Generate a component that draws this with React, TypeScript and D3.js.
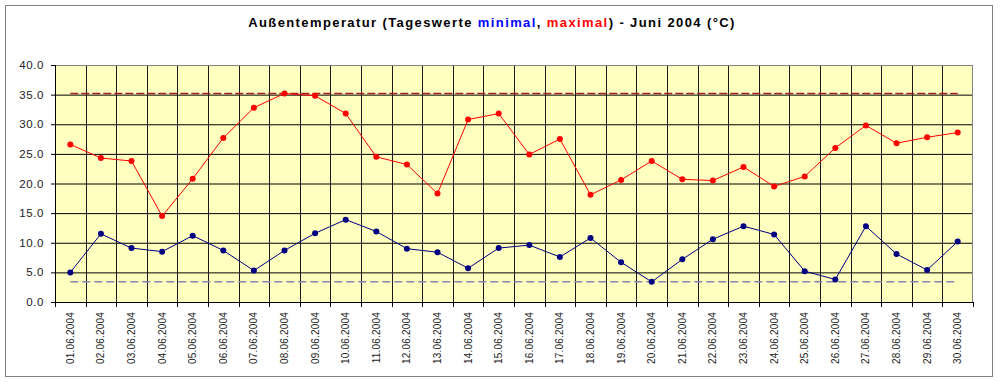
import React from "react";
import * as d3 from "d3";

const dates = [
  "01.06.2004","02.06.2004","03.06.2004","04.06.2004","05.06.2004","06.06.2004",
  "07.06.2004","08.06.2004","09.06.2004","10.06.2004","11.06.2004","12.06.2004",
  "13.06.2004","14.06.2004","15.06.2004","16.06.2004","17.06.2004","18.06.2004",
  "19.06.2004","20.06.2004","21.06.2004","22.06.2004","23.06.2004","24.06.2004",
  "25.06.2004","26.06.2004","27.06.2004","28.06.2004","29.06.2004","30.06.2004",
];
const maxValues = [
  26.6, 24.3, 23.8, 14.5, 20.8, 27.7, 32.8, 35.2, 34.8, 31.8,
  24.5, 23.2, 18.3, 30.8, 31.8, 24.9, 27.5, 18.1, 20.6, 23.8,
  20.7, 20.5, 22.8, 19.5, 21.2, 26.0, 29.8, 26.8, 27.8, 28.6,
];
const minValues = [
  5.0, 11.5, 9.1, 8.5, 11.2, 8.7, 5.3, 8.7, 11.6, 13.9,
  11.9, 9.0, 8.4, 5.7, 9.1, 9.6, 7.6, 10.8, 6.7, 3.4,
  7.2, 10.6, 12.8, 11.4, 5.2, 3.8, 12.8, 8.1, 5.4, 10.2,
];
const maxRef = 35.2;
const minRef = 3.4;
const yTicks = [0, 5, 10, 15, 20, 25, 30, 35, 40];

const W = 1000, H = 382;
const L = 55, R = 973, T = 65, B = 302;
const FONT = "'Liberation Sans', Arial, sans-serif";

export default function App() {
  const x = d3.scaleBand<string>().domain(dates).range([L, R]).padding(0);
  const y = d3.scaleLinear().domain([0, 40]).range([B, T]);
  const cx = (d: string) => (x(d) as number) + x.bandwidth() / 2;
  const line = d3.line<number>().x((_, i) => cx(dates[i])).y((v) => y(v));
  const bounds = dates.map((d) => x(d) as number).concat([R]);
  const first = cx(dates[0]);
  const last = cx(dates[dates.length - 1]);

  return (
    <svg width={W} height={H} style={{ position: "absolute", left: 0, top: 0, background: "#fff" }} fontFamily={FONT}>
      <rect x={0} y={0} width={W} height={H} fill="#fff" />
      <rect x={5.5} y={5.5} width={987} height={371} fill="#fff" stroke="#808080" strokeWidth={1} />
      <text x={492} y={27} textAnchor="middle" fontSize={13} fontWeight="bold" letterSpacing={1.4} fill="#000">
        <tspan>Außentemperatur (Tageswerte </tspan>
        <tspan fill="#0000FF">minimal</tspan>
        <tspan>, </tspan>
        <tspan fill="#FF0000">maximal</tspan>
        <tspan>) - Juni 2004 (°C)</tspan>
      </text>
      <rect x={L} y={T} width={R - L} height={B - T} fill="#FFFFC0" />
      {yTicks.filter((t) => t > 0 && t < 40).map((t) => (
        <line key={"h" + t} x1={L} x2={R} y1={y(t) + 0.5} y2={y(t) + 0.5} stroke="#000" strokeWidth={1} />
      ))}
      {bounds.slice(1, -1).map((bx, i) => (
        <line key={"v" + i} x1={Math.round(bx) + 0.5} x2={Math.round(bx) + 0.5} y1={T} y2={B} stroke="#1a1a1a" strokeWidth={1} />
      ))}
      <rect x={L + 0.5} y={T + 0.5} width={R - L - 1} height={B - T} fill="none" stroke="#808080" strokeWidth={1} />
      {/* axes */}
      <line x1={L + 0.5} x2={L + 0.5} y1={T} y2={B + 1} stroke="#000" />
      <line x1={L} x2={R} y1={B + 0.5} y2={B + 0.5} stroke="#000" />
      {yTicks.map((t) => (
        <g key={"yt" + t}>
          <line x1={L - 4} x2={L} y1={y(t) + 0.5} y2={y(t) + 0.5} stroke="#000" />
          <text x={44} y={y(t) + 4} textAnchor="end" fontSize={11.5} letterSpacing={0.6} fill="#222">
            {t.toFixed(1)}
          </text>
        </g>
      ))}
      {bounds.map((bx, i) => (
        <line key={"xt" + i} x1={Math.round(bx) + 0.5} x2={Math.round(bx) + 0.5} y1={B} y2={B + 5} stroke="#000" />
      ))}
      {dates.map((d) => (
        <text key={"xl" + d} transform={`translate(${cx(d) + 3.5},${312}) rotate(-90)`} textAnchor="end" fontSize={10} letterSpacing={0.2} fill="#222">
          {d}
        </text>
      ))}
      {/* reference lines */}
      <line x1={first} x2={last} y1={y(maxRef)} y2={y(maxRef)} stroke="#A52020" strokeWidth={1.5} strokeDasharray="8,3" />
      <line x1={first} x2={last} y1={y(minRef)} y2={y(minRef)} stroke="#8585b0" strokeWidth={1.5} strokeDasharray="8,4" />
      {/* series */}
      <path d={line(maxValues) || ""} fill="none" stroke="#FF0000" strokeWidth={1} />
      {maxValues.map((v, i) => (
        <circle key={"mx" + i} cx={cx(dates[i])} cy={y(v)} r={3} fill="#FF0000" />
      ))}
      <path d={line(minValues) || ""} fill="none" stroke="#000080" strokeWidth={1} />
      {minValues.map((v, i) => (
        <circle key={"mn" + i} cx={cx(dates[i])} cy={y(v)} r={3} fill="#000080" />
      ))}
    </svg>
  );
}
